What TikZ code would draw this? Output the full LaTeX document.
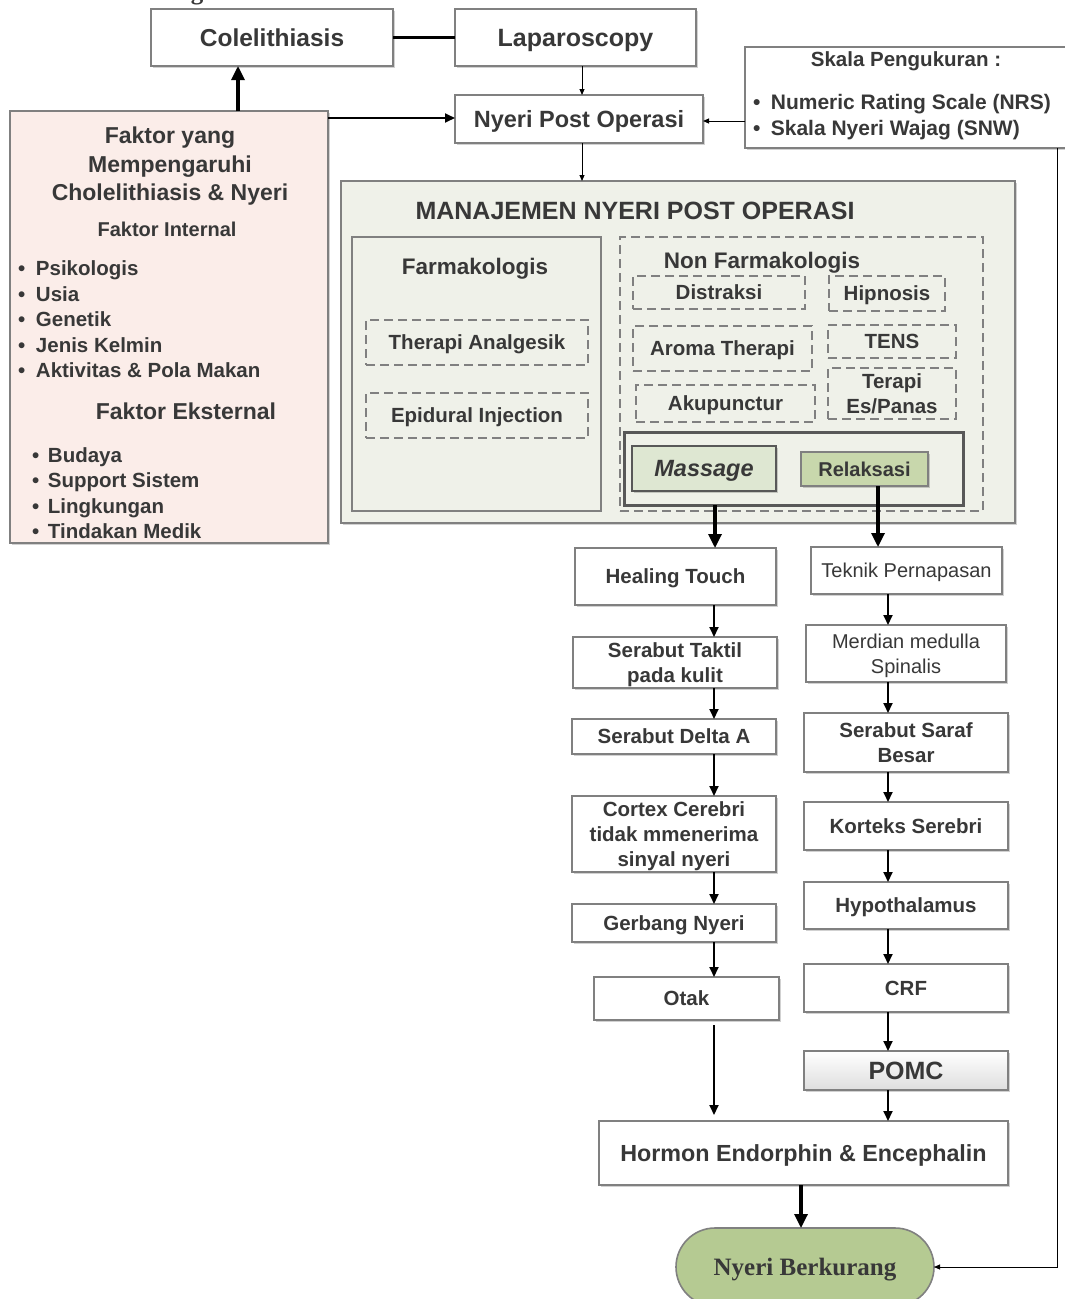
\documentclass[tikz,border=0pt]{standalone}
\usepackage{fontspec}
\setmainfont{Liberation Sans}
\newfontfamily\serifb{Liberation Serif}
\usetikzlibrary{arrows.meta,shadows}
\definecolor{bord}{RGB}{128,128,128}
\definecolor{txt}{RGB}{56,56,56}
\definecolor{pinkf}{RGB}{251,237,233}
\definecolor{mgbg}{RGB}{239,241,233}
\definecolor{massf}{RGB}{222,231,210}
\definecolor{relf}{RGB}{200,215,172}
\definecolor{nbf}{RGB}{181,202,146}
\definecolor{dgray}{RGB}{88,88,88}
\newcommand\fsz[2]{\fontsize{#1}{#2}\selectfont}
\begin{document}
\begin{tikzpicture}[x=1pt,y=-1pt,
  every node/.style={inner sep=0pt, outer sep=0pt, text=txt},
  wh/.style 2 args={minimum width=#1pt, minimum height=#2pt},
  shad/.style={drop shadow={shadow xshift=2pt,shadow yshift=-2pt,fill=black,opacity=0.18}},
  box/.style={draw=bord, line width=1.6pt, fill=white, shad, align=center, text depth=0pt, font=\bfseries\fsz{20.5}{25}},
  dbox/.style={draw=bord, line width=1.3pt, dash pattern=on 9pt off 5pt, align=center, text depth=0pt, font=\bfseries\fsz{20.5}{25}},
  item/.style={anchor=base west, font=\bfseries\fsz{20.5}{25}},
  arr/.style={line width=1.8pt, -{Triangle[length=10pt,width=9pt]}},
  tarr/.style={line width=1pt, -{Triangle[length=6pt,width=5pt]}},
  karr/.style={line width=3.2pt, -{Triangle[length=14pt,width=13pt]}},
]
\useasboundingbox (0,0) rectangle (1065,1299);

% cut-off fragment at the top
\node[anchor=base, font=\serifb\bfseries\fsz{25}{30}] (gfrag) at (197,-1) {g};

% top row
\node[box, wh={242}{57}, font=\bfseries\fsz{24.5}{29}] (cole) at (272,37.5) {Colelithiasis};
\node[box, wh={241}{57}, font=\bfseries\fsz{25}{29}] (lapa) at (575.5,37.5) {Laparoscopy};
\node[box, wh={248}{48}, font=\bfseries\fsz{23.5}{28}] (nyeri) at (579,119) {Nyeri Post Operasi};

% scale box
\node[box, wh={330}{101}] (skala) at (910,97.5) {};
\node[anchor=base, font=\bfseries\fsz{20.5}{24}] (skt) at (906,66) {Skala Pengukuran :};
\node[item, font=\bfseries\fsz{21}{25}] (sk1) at (753,109) {\textbullet\hspace{10.5pt}Numeric Rating Scale (NRS)};
\node[item, font=\bfseries\fsz{21}{25}] (sk2) at (753,135) {\textbullet\hspace{10.5pt}Skala Nyeri Wajag (SNW)};

% factor box
\node[box, fill=pinkf, wh={318}{432}] (faktor) at (169,327) {};
\node[anchor=base, font=\bfseries\fsz{23}{28}] (ft1) at (170,143.3) {Faktor yang};
\node[anchor=base, font=\bfseries\fsz{23}{28}] (ft2) at (170,172) {Mempengaruhi};
\node[anchor=base, font=\bfseries\fsz{23}{28}] (ft3) at (170,200) {Cholelithiasis \& Nyeri};
\node[anchor=base, font=\bfseries\fsz{20}{24}] (fint) at (167,236) {Faktor Internal};
\node[item] (i1) at (18,275.5) {\textbullet\hspace{10.8pt}Psikologis};
\node[item] (i2) at (18,301) {\textbullet\hspace{10.8pt}Usia};
\node[item] (i3) at (18,326.5) {\textbullet\hspace{10.8pt}Genetik};
\node[item] (i4) at (18,352) {\textbullet\hspace{10.8pt}Jenis Kelmin};
\node[item] (i5) at (18,377.5) {\textbullet\hspace{10.8pt}Aktivitas \& Pola Makan};
\node[anchor=base, font=\bfseries\fsz{23}{28}] (feks) at (186,419) {Faktor Eksternal};
\node[item] (e1) at (32,462) {\textbullet\hspace{8.8pt}Budaya};
\node[item] (e2) at (32,487.5) {\textbullet\hspace{8.8pt}Support Sistem};
\node[item] (e3) at (32,513) {\textbullet\hspace{8.8pt}Lingkungan};
\node[item] (e4) at (32,538.5) {\textbullet\hspace{8.8pt}Tindakan Medik};

% management box
\node[draw=bord, line width=1.6pt, fill=mgbg, shad, wh={674}{342}] (manaj) at (678,352) {};
\node[anchor=base, font=\bfseries\fsz{25}{30}] (mt) at (635,219.5) {MANAJEMEN NYERI POST OPERASI};
\node[draw=bord, line width=1.6pt, fill=mgbg, wh={249}{274}] (farm) at (476.5,374) {};
\node[anchor=base, font=\bfseries\fsz{22.5}{27}] (farmt) at (475,274) {Farmakologis};
\node[dbox, wh={363}{274}] (nonf) at (801.5,374) {};
\node[anchor=base, font=\bfseries\fsz{22.5}{27}] (nonft) at (762,268) {Non Farmakologis};

\node[dbox, wh={222}{45}] (analg) at (477,342.5) {Therapi Analgesik};
\node[dbox, wh={222}{45}] (epid) at (477,415.5) {Epidural Injection};
\node[dbox, wh={172}{33}] (distr) at (719,292.5) {Distraksi};
\node[dbox, wh={116}{35}] (hipn) at (887,293.5) {Hipnosis};
\node[dbox, wh={179}{45}] (aroma) at (722.5,348.5) {Aroma Therapi};
\node[dbox, wh={128}{33}] (tens) at (892,341.5) {TENS};
\node[dbox, wh={128}{51}] (terapi) at (892,393.5) {Terapi\\Es/Panas};
\node[dbox, wh={179}{37}] (akup) at (725.5,403.5) {Akupunctur};

\node[draw=dgray, line width=3pt, fill=mgbg, shad, wh={339}{73}] (mgrp) at (793.5,468.5) {};
\node[draw=dgray, line width=2.4pt, fill=massf, shad, wh={144}{45}, text depth=0pt, font=\bfseries\itshape\fsz{23.5}{28}] (mass) at (704,468.5) {Massage};
\node[draw=bord, line width=1.6pt, fill=relf, shad, wh={127}{34}, font=\bfseries\fsz{20}{24}] (relak) at (864.5,469) {Relaksasi};

% left chain
\node[box, wh={201}{57}] (heal) at (675.5,576.5) {Healing Touch};
\node[box, wh={204}{51}] (takt) at (675,662.5) {Serabut Taktil\\pada kulit};
\node[box, wh={204}{35}] (delta) at (674,736.5) {Serabut Delta  A};
\node[box, wh={204}{76}] (cortex) at (674,834) {Cortex Cerebri\\tidak mmenerima\\sinyal nyeri};
\node[box, wh={204}{38}] (gerb) at (674,923) {Gerbang Nyeri};
\node[box, wh={185}{43}] (otak) at (686.5,998.5) {Otak};

% right chain
\node[box, wh={191}{47}, font=\fsz{20}{25}] (tekn) at (906.5,570.5) {Teknik Pernapasan};
\node[box, wh={200}{57}, font=\fsz{20}{25}] (merd) at (906,653.5) {Merdian medulla\\Spinalis};
\node[box, wh={204}{59}] (saraf) at (906,742.5) {Serabut Saraf\\Besar};
\node[box, wh={204}{48}] (kort) at (906,826) {Korteks Serebri};
\node[box, wh={204}{47}] (hypo) at (906,905.5) {Hypothalamus};
\node[box, wh={204}{48}] (crf) at (906,988) {CRF};
\node[box, wh={204}{39}, top color=white, bottom color=black!13, font=\bfseries\fsz{25}{30}] (pomc) at (906,1070.5) {POMC};

\node[box, wh={409}{64}, font=\bfseries\fsz{23.3}{28}] (hormon) at (803.5,1153) {Hormon Endorphin \& Encephalin};
\node[draw=bord, line width=1.6pt, fill=nbf, rounded corners=39pt, wh={258}{78}, text depth=0pt, font=\serifb\bfseries\fsz{25}{30}] (nb) at (805,1267) {Nyeri Berkurang};

% connectors
\coordinate (cl) at (714,0);
\coordinate (cr) at (888,0);
\coordinate (xr) at (1057,0);
\draw[line width=3pt] (cole.east) -- (lapa.west);
\draw[tarr] ([xshift=6.5pt]lapa.south) -- ([xshift=6.5pt]lapa.south |- nyeri.north);
\draw[tarr] ([xshift=3pt]nyeri.south) -- ([xshift=3pt]nyeri.south |- manaj.north);
\draw[tarr] ([yshift=-2pt]skala.west |- nyeri.east) -- ([yshift=-2pt]nyeri.east);
\draw[arr] ([yshift=1pt]faktor.east |- nyeri.west) -- ([yshift=1pt]nyeri.west);
\draw[karr] ([xshift=-34pt]cole.south |- faktor.north) -- ([xshift=-34pt]cole.south);
\draw[karr] ([xshift=-78.5pt]mgrp.south) -- ([xshift=-78.5pt]mgrp.south |- heal.north);
\draw[karr] ([xshift=13.5pt]relak.south) -- ([xshift=13.5pt]relak.south |- tekn.north);

\draw[arr] (heal.south -| cl) -- (takt.north -| cl);
\draw[arr] (takt.south -| cl) -- (delta.north -| cl);
\draw[arr] (delta.south -| cl) -- (cortex.north -| cl);
\draw[arr] (cortex.south -| cl) -- (gerb.north -| cl);
\draw[arr] (gerb.south -| cl) -- (otak.north -| cl);
\draw[arr, shorten <=5pt, shorten >=6pt] (otak.south -| cl) -- (hormon.north -| cl);

\draw[arr] (tekn.south -| cr) -- (merd.north -| cr);
\draw[arr] (merd.south -| cr) -- (saraf.north -| cr);
\draw[arr] (saraf.south -| cr) -- (kort.north -| cr);
\draw[arr] (kort.south -| cr) -- (hypo.north -| cr);
\draw[arr] (hypo.south -| cr) -- (crf.north -| cr);
\draw[arr] (crf.south -| cr) -- (pomc.north -| cr);
\draw[arr] (pomc.south -| cr) -- (hormon.north -| cr);

\draw[karr] ([xshift=-2.5pt]hormon.south) -- ([xshift=-2.5pt]hormon.south |- nb.north);
\draw[tarr] (skala.south -| xr) |- (nb.east);
\end{tikzpicture}
\end{document}
